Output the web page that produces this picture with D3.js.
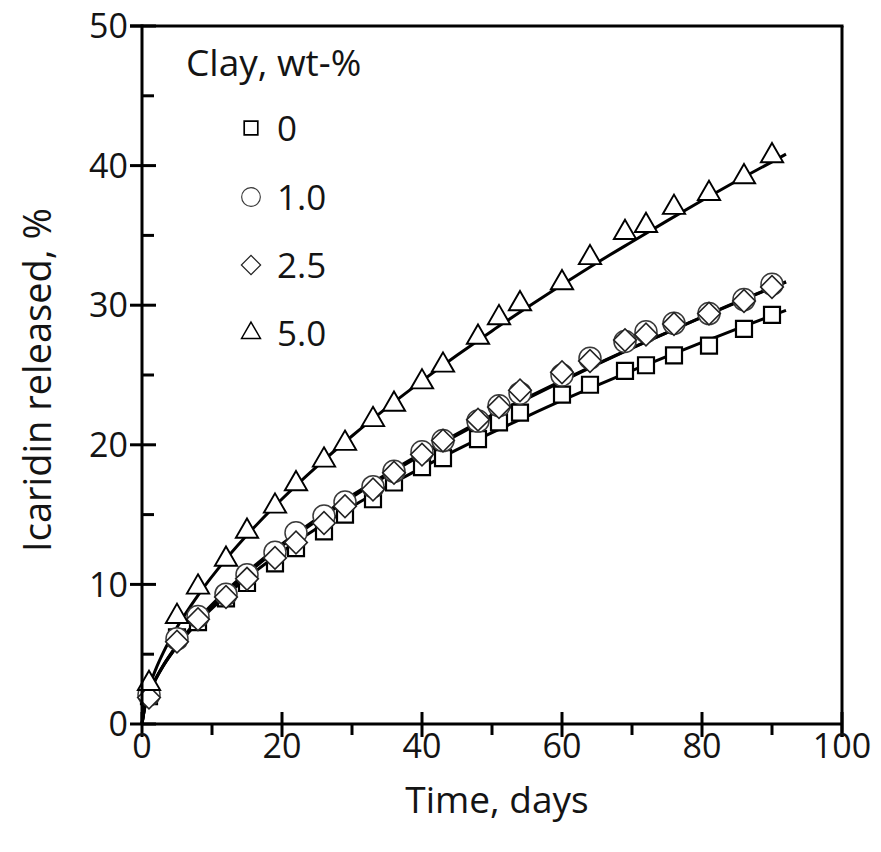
<!DOCTYPE html>
<html>
<head>
<meta charset="utf-8">
<script src="https://cdn.jsdelivr.net/npm/d3@7"></script>
<style>
  html, body { margin: 0; padding: 0; background: #fff; }
  svg { display: block; }
  text { font-family: "Open Sans", "Noto Sans", sans-serif; fill: #141414; }
</style>
</head>
<body>
<svg id="chart" width="881" height="852"></svg>
<script>
// ---- data ----
const times = [1, 5, 8, 12, 15, 19, 22, 26, 29, 33, 36, 40, 43, 48, 51, 54, 60, 64, 69, 72, 76, 81, 86, 90];
const clay0   = [2.0, 6.2, 7.3, 9.0, 10.1, 11.5, 12.6, 13.8, 15.0, 16.1, 17.3, 18.4, 19.05, 20.4, 21.6, 22.3, 23.6, 24.3, 25.3, 25.7, 26.4, 27.1, 28.3, 29.3];
const clay1_0 = [2.1, 6.1, 7.7, 9.3, 10.7, 12.3, 13.7, 14.9, 15.9, 17.0, 18.1, 19.5, 20.3, 21.7, 22.8, 23.7, 25.0, 26.2, 27.4, 28.1, 28.7, 29.4, 30.4, 31.5];
const clay2_5 = [1.9, 5.9, 7.5, 9.1, 10.4, 11.9, 13.0, 14.4, 15.6, 16.8, 18.0, 19.3, 20.3, 21.8, 22.7, 23.9, 25.2, 26.0, 27.5, 27.9, 28.65, 29.4, 30.3, 31.3];
const clay5_0 = [2.9, 7.7, 9.8, 11.8, 13.8, 15.6, 17.2, 18.9, 20.1, 21.8, 22.9, 24.5, 25.7, 27.7, 29.1, 30.1, 31.6, 33.4, 35.2, 35.7, 37.0, 38.0, 39.2, 40.7];

// fitted curves, values
const fitTimes = [0, 0.5, 1, 2, 3, 5, 8, 12, 16, 20, 25, 30, 35, 40, 45, 50, 55, 60, 65, 70, 75, 80, 85, 90, 92];
const fit0   = [0, 1.48, 2.21, 3.29, 4.15, 5.57, 7.29, 9.20, 10.86, 12.34, 14.02, 15.57, 17.01, 18.36, 19.65, 20.87, 22.04, 23.18, 24.26, 25.31, 26.34, 27.33, 28.31, 29.26, 29.63];
const fit1_0 = [0, 1.45, 2.18, 3.28, 4.18, 5.66, 7.49, 9.53, 11.31, 12.90, 14.71, 16.38, 17.93, 19.40, 20.79, 22.12, 23.38, 24.60, 25.79, 26.94, 28.05, 29.14, 30.21, 31.25, 31.66];
const fit2_5 = [0, 1.42, 2.14, 3.23, 4.12, 5.58, 7.39, 9.41, 11.17, 12.76, 14.57, 16.25, 17.81, 19.29, 20.69, 22.04, 23.31, 24.55, 25.76, 26.92, 28.04, 29.15, 30.24, 31.27, 31.68];
const fit5_0 = [0, 1.70, 2.60, 3.97, 5.08, 6.93, 9.22, 11.81, 14.07, 16.12, 18.46, 20.63, 22.66, 24.58, 26.41, 28.16, 29.83, 31.46, 33.04, 34.55, 36.04, 37.50, 38.91, 40.27, 40.82];

const seriesNames = ["0", "1.0", "2.5", "5.0"];
const xTicks = [0, 20, 40, 60, 80, 100];
const yTicks = [0, 10, 20, 30, 40, 50];
const xTitle = "Time, days";
const yTitle = "Icaridin released, %";
const legendTitle = "Clay, wt-%";

// ---- layout ----
const svg = d3.select("#chart");
const x = d3.scaleLinear().domain([0, 100]).range([142, 842]);
const y = d3.scaleLinear().domain([0, 50]).range([724, 26]);

const series = [
  { name: seriesNames[0], vals: clay0,   fit: fit0,   sym: "square"   },
  { name: seriesNames[1], vals: clay1_0, fit: fit1_0, sym: "circle"   },
  { name: seriesNames[2], vals: clay2_5, fit: fit2_5, sym: "diamond"  },
  { name: seriesNames[3], vals: clay5_0, fit: fit5_0, sym: "triangle" }
];

const symStyle = {
  square:   { path: d3.symbol(d3.symbolSquare, 256)(),   rot: 0,  stroke: "#000", sw: 2.2 },
  circle:   { path: d3.symbol(d3.symbolCircle, 380)(),   rot: 0,  stroke: "#3a3a3a", sw: 1.5 },
  diamond:  { path: d3.symbol(d3.symbolSquare, 256)(),   rot: 45, stroke: "#222", sw: 1.6 },
  triangle: { path: d3.symbol(d3.symbolTriangle, 215)(), rot: 0,  stroke: "#000", sw: 1.9 }
};

// ---- fitted lines ----
const line = d3.line().x(d => x(d[0])).y(d => y(d[1])).curve(d3.curveMonotoneX);
const gLines = svg.append("g");
series.forEach(s => {
  gLines.append("path")
    .attr("d", line(fitTimes.map((t, i) => [t, s.fit[i]])))
    .attr("fill", "none")
    .attr("stroke", "#000")
    .attr("stroke-width", 3);
});

// ---- markers ----
const gPts = svg.append("g");
series.forEach(s => {
  const st = symStyle[s.sym];
  gPts.append("g").selectAll("path")
    .data(times.map((t, i) => [t, s.vals[i]]))
    .join("path")
    .attr("d", st.path)
    .attr("transform", d => `translate(${x(d[0])},${y(d[1])}) rotate(${st.rot})`)
    .attr("fill", "#fff")
    .attr("stroke", st.stroke)
    .attr("stroke-width", st.sw);
});

// ---- axes ----
const gAx = svg.append("g").attr("stroke", "#000").attr("stroke-width", 3);
// frame
gAx.append("line").attr("x1", x(0)).attr("x2", x(0)).attr("y1", y(0)).attr("y2", y(50) - 1.5);
gAx.append("line").attr("x1", x(0) - 12).attr("x2", x(100) + 1.5).attr("y1", y(50)).attr("y2", y(50));
gAx.append("line").attr("x1", x(100)).attr("x2", x(100)).attr("y1", y(50)).attr("y2", y(0) + 13);
gAx.append("line").attr("x1", x(0)).attr("x2", x(100)).attr("y1", y(0)).attr("y2", y(0));

// y ticks: major cross, minor inside
yTicks.forEach(v => {
  gAx.append("line").attr("x1", x(0) - 12).attr("x2", x(0) + 14).attr("y1", y(v)).attr("y2", y(v));
});
d3.range(5, 50, 10).forEach(v => {
  gAx.append("line").attr("x1", x(0)).attr("x2", x(0) + 12).attr("y1", y(v)).attr("y2", y(v));
});
// x ticks: major cross, minor outside
xTicks.forEach(v => {
  gAx.append("line").attr("x1", x(v)).attr("x2", x(v)).attr("y1", y(0) - 12).attr("y2", y(0) + 13);
});
d3.range(10, 100, 20).forEach(v => {
  gAx.append("line").attr("x1", x(v)).attr("x2", x(v)).attr("y1", y(0)).attr("y2", y(0) + 11);
});

// tick labels
svg.append("g").selectAll("text").data(yTicks).join("text")
  .attr("x", 128).attr("y", d => y(d)).attr("dy", "0.36em")
  .attr("text-anchor", "end").style("font-size", "34px")
  .text(d => d);
svg.append("g").selectAll("text").data(xTicks).join("text")
  .attr("x", d => x(d)).attr("y", 758)
  .attr("text-anchor", "middle").style("font-size", "34px")
  .text(d => d);

// titles
svg.append("text").attr("x", 497).attr("y", 813)
  .attr("text-anchor", "middle").style("font-size", "37px").text(xTitle);
svg.append("text").attr("transform", "translate(51,380) rotate(-90)")
  .attr("text-anchor", "middle").style("font-size", "38px").text(yTitle);

// ---- legend ----
const gLeg = svg.append("g");
gLeg.append("text").attr("x", 186).attr("y", 76).style("font-size", "37px").text(legendTitle);
const legY = [128, 197, 265, 333];
series.forEach((s, i) => {
  const st = symStyle[s.sym];
  gLeg.append("path").attr("d", st.path)
    .attr("transform", `translate(251,${legY[i]}) rotate(${st.rot}) scale(0.85)`)
    .attr("fill", "#fff").attr("stroke", st.stroke).attr("stroke-width", st.sw * 0.9);
  gLeg.append("text").attr("x", 277).attr("y", legY[i]).attr("dy", "0.36em")
    .style("font-size", "35px").text(s.name);
});
</script>
</body>
</html>
